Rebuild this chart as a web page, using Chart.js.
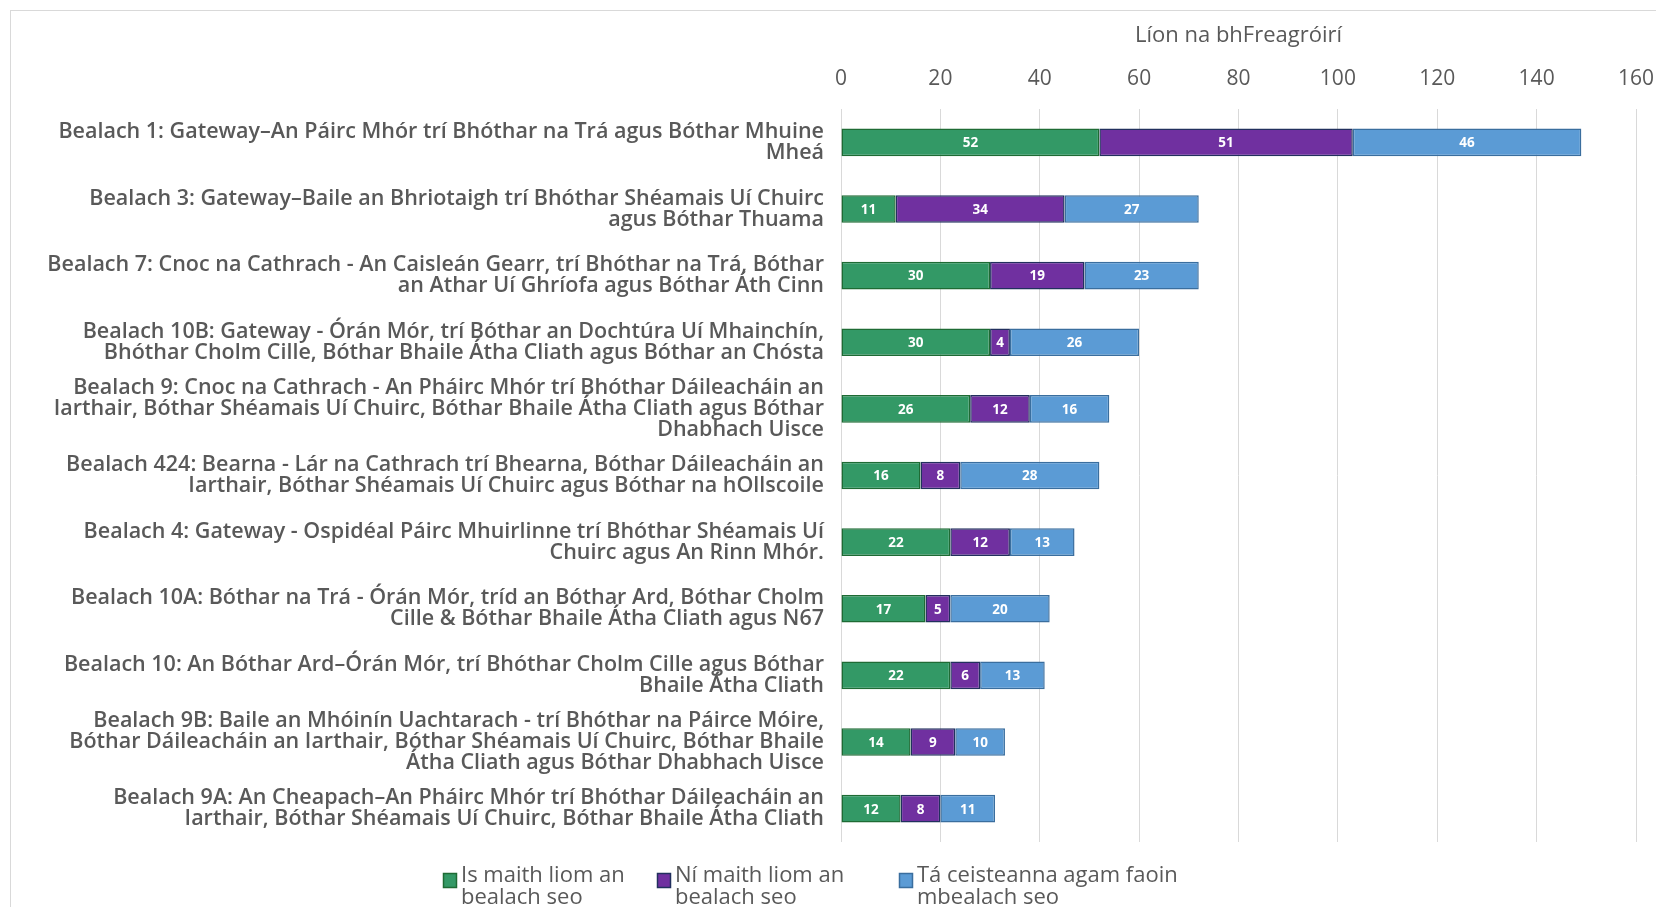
<!DOCTYPE html>
<html><head><meta charset="utf-8">
<script src="https://cdn.jsdelivr.net/npm/chart.js@4/dist/chart.umd.min.js"></script>
<style>html,body{margin:0;padding:0;background:#fff}#wrap{width:1656px;height:907px;position:relative}canvas{display:block}</style>
</head><body><div id="wrap"><canvas id="c" width="1656" height="907"></canvas></div>
<script>
const categories = [
  ["Bealach 1: Gateway–An Páirc Mhór trí Bhóthar na Trá agus Bóthar Mhuine", "Mheá"],
  ["Bealach 3: Gateway–Baile an Bhriotaigh trí Bhóthar Shéamais Uí Chuirc", "agus Bóthar Thuama"],
  ["Bealach 7: Cnoc na Cathrach - An Caisleán Gearr, trí Bhóthar na Trá, Bóthar", "an Athar Uí Ghríofa agus Bóthar Áth Cinn"],
  ["Bealach 10B: Gateway - Órán Mór, trí Bóthar an Dochtúra Uí Mhainchín,", "Bhóthar Cholm Cille, Bóthar Bhaile Átha Cliath agus Bóthar an Chósta"],
  ["Bealach 9: Cnoc na Cathrach - An Pháirc Mhór trí Bhóthar Dáileacháin an", "Iarthair, Bóthar Shéamais Uí Chuirc, Bóthar Bhaile Átha Cliath agus Bóthar", "Dhabhach Uisce"],
  ["Bealach 424: Bearna - Lár na Cathrach trí Bhearna, Bóthar Dáileacháin an", "Iarthair, Bóthar Shéamais Uí Chuirc agus Bóthar na hOllscoile"],
  ["Bealach 4: Gateway - Ospidéal Páirc Mhuirlinne trí Bhóthar Shéamais Uí", "Chuirc agus An Rinn Mhór."],
  ["Bealach 10A: Bóthar na Trá - Órán Mór, tríd an Bóthar Ard, Bóthar Cholm", "Cille & Bóthar Bhaile Átha Cliath agus N67"],
  ["Bealach 10: An Bóthar Ard–Órán Mór, trí Bhóthar Cholm Cille agus Bóthar", "Bhaile Átha Cliath"],
  ["Bealach 9B: Baile an Mhóinín Uachtarach - trí Bhóthar na Páirce Móire,", "Bóthar Dáileacháin an Iarthair, Bóthar Shéamais Uí Chuirc, Bóthar Bhaile", "Átha Cliath agus Bóthar Dhabhach Uisce"],
  ["Bealach 9A: An Cheapach–An Pháirc Mhór trí Bhóthar Dáileacháin an", "Iarthair, Bóthar Shéamais Uí Chuirc, Bóthar Bhaile Átha Cliath"]
];
const likeValues     = [52, 11, 30, 30, 26, 16, 22, 17, 22, 14, 12];
const dislikeValues  = [51, 34, 19,  4, 12,  8, 12,  5,  6,  9,  8];
const questionValues = [46, 27, 23, 26, 16, 28, 13, 20, 13, 10, 11];
const seriesNames = [
  ["Is maith liom an", "bealach seo"],
  ["Ní maith liom an", "bealach seo"],
  ["Tá ceisteanna agam faoin", "mbealach seo"]
];
const xTicks = [0, 20, 40, 60, 80, 100, 120, 140, 160];
const axisTitle = "Líon na bhFreagróirí";

const FONT = "'Open Sans', 'Noto Sans', sans-serif";
const TEXT = '#595959';
const fills = ['#339966', '#7030A0', '#5B9BD5'];
const borders = ['#1E6B34', '#22305E', '#3A6E9E'];

const framePlugin = {
  id: 'frame',
  beforeDraw(chart) {
    const c = chart.ctx;
    c.save();
    c.strokeStyle = '#d9d9d9';
    c.lineWidth = 1;
    c.strokeRect(10.5, 10.5, chart.width + 50, chart.height + 50);
    c.restore();
  }
};

const dataLabelPlugin = {
  id: 'dlabels',
  afterDatasetsDraw(chart) {
    const c = chart.ctx;
    c.save();
    c.fillStyle = '#ffffff';
    c.font = "bold 13.5px " + FONT;
    c.textAlign = 'center';
    c.textBaseline = 'middle';
    chart.data.datasets.forEach((ds, di) => {
      const meta = chart.getDatasetMeta(di);
      meta.data.forEach((el, i) => {
        const v = ds.data[i];
        const p = el.getProps(['x', 'y', 'base'], true);
        c.fillText(String(v), (p.x + p.base) / 2, p.y + 1);
      });
    });
    c.restore();
  }
};

const legendPlugin = {
  id: 'customLegend',
  afterDraw(chart) {
    const c = chart.ctx;
    const itemX = [443, 657, 899];
    const top = chart.chartArea.bottom + 31;
    c.save();
    c.font = "22px " + FONT;
    c.textAlign = 'left';
    c.textBaseline = 'middle';
    seriesNames.forEach((lines, i) => {
      const x = itemX[i];
      c.fillStyle = fills[i];
      c.fillRect(x + 0.5, top + 0.5, 13, 14);
      c.strokeStyle = borders[i];
      c.lineWidth = 1.5;
      c.strokeRect(x + 0.5, top + 0.5, 13, 14);
      c.fillStyle = TEXT;
      lines.forEach((t, k) => c.fillText(t, x + 18, top + 3 + k * 22));
    });
    c.restore();
  }
};

new Chart(document.getElementById('c'), {
  type: 'bar',
  data: {
    labels: categories,
    datasets: [
      { label: seriesNames[0].join(' '), data: likeValues },
      { label: seriesNames[1].join(' '), data: dislikeValues },
      { label: seriesNames[2].join(' '), data: questionValues }
    ].map((d, i) => Object.assign(d, {
      backgroundColor: fills[i], borderColor: borders[i], borderWidth: 1.5,
      borderSkipped: false, categoryPercentage: 1, barPercentage: 0.415
    }))
  },
  options: {
    indexAxis: 'y',
    responsive: false,
    animation: false,
    devicePixelRatio: 1,
    layout: { padding: { top: 14, right: 20, bottom: 65, left: 0 } },
    plugins: { legend: { display: false }, tooltip: { enabled: false } },
    scales: {
      x: {
        position: 'top', stacked: true, min: 0, max: 160,
        afterBuildTicks(s) { s.ticks = xTicks.map(v => ({ value: v })); },
        ticks: { color: TEXT, font: { family: FONT, size: 21 }, padding: 17 },
        grid: { color: '#d9d9d9', drawTicks: false, lineWidth: 1 },
        border: { display: false },
        title: { display: true, text: axisTitle, color: TEXT, font: { family: FONT, size: 22 }, padding: { top: 9, bottom: 0 } },
        afterFit(s) { s.height = 95; s.paddingLeft = 0; s.paddingRight = 0; }
      },
      y: {
        stacked: true,
        ticks: { color: TEXT, font: { family: FONT, size: 21.5, weight: '600', lineHeight: 0.98 }, padding: 9 },
        grid: { display: false },
        border: { display: false },
        afterFit(s) { s.width = 841; s.paddingTop = 0; s.paddingBottom = 0; }
      }
    }
  },
  plugins: [framePlugin, dataLabelPlugin, legendPlugin]
});
</script>
</body></html>
